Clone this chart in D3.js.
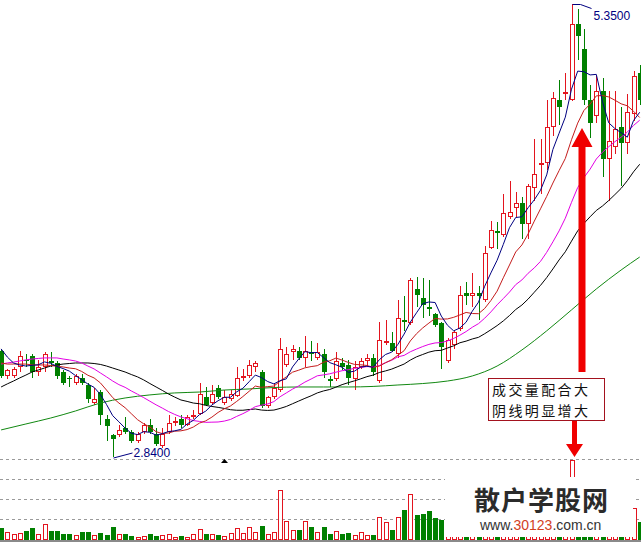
<!DOCTYPE html>
<html><head><meta charset="utf-8">
<script src="https://cdn.jsdelivr.net/npm/d3@7"></script>
<style>html,body{margin:0;padding:0;background:#fff;}svg{display:block;}</style>
</head><body>
<svg id="c" width="641" height="543"></svg>
<script>
const openP = [3.43,3.29,3.29,3.34,3.38,3.40,3.31,3.34,3.37,3.36,
3.31,3.28,3.25,3.28,3.24,3.14,3.20,3.05,2.96,2.96,
3.00,2.98,2.93,2.98,3.02,2.97,2.90,2.98,3.03,3.05,
3.02,3.06,3.08,3.17,3.14,3.22,3.14,3.16,3.18,3.28,
3.29,3.34,3.31,3.12,3.17,3.21,3.35,3.42,3.43,3.39,
3.42,3.39,3.41,3.27,3.27,3.36,3.35,3.27,3.34,3.37,
3.39,3.26,3.47,3.47,3.41,3.60,3.58,3.77,3.72,3.67,
3.63,3.58,3.37,3.46,3.55,3.75,3.73,3.75,3.71,4.00,
4.09,4.07,4.17,4.22,4.25,4.13,4.33,4.46,4.47,4.67,
4.82,4.85,4.82,5.24,5.10,4.82,4.73,4.87,4.49,4.56,
4.67,4.58,4.74,4.97];
const closeP = [3.29,3.32,3.33,3.40,3.37,3.31,3.34,3.41,3.36,3.29,
3.25,3.27,3.29,3.25,3.16,3.16,3.07,3.01,2.94,2.99,
2.98,2.93,2.97,3.02,2.98,2.91,2.97,3.03,3.04,3.02,
3.06,3.07,3.19,3.13,3.19,3.17,3.17,3.19,3.28,3.29,
3.35,3.36,3.12,3.17,3.22,3.44,3.41,3.44,3.39,3.43,
3.41,3.42,3.31,3.26,3.37,3.34,3.28,3.34,3.37,3.39,
3.31,3.49,3.48,3.43,3.61,3.59,3.82,3.74,3.68,3.66,
3.57,3.45,3.49,3.53,3.74,3.73,3.75,3.73,3.97,4.10,
4.08,4.19,4.20,4.25,4.13,4.34,4.41,4.47,4.67,4.83,
4.78,4.86,5.24,5.17,4.82,4.69,4.87,4.49,4.59,4.66,
4.58,4.75,4.95,4.82];
const highP = [3.44,3.33,3.34,3.43,3.41,3.41,3.38,3.42,3.42,3.37,
3.32,3.29,3.30,3.30,3.25,3.22,3.21,3.07,2.97,3.02,
3.06,2.99,2.98,3.03,3.05,3.00,3.00,3.07,3.06,3.07,
3.07,3.10,3.25,3.23,3.24,3.24,3.21,3.21,3.34,3.33,
3.38,3.37,3.32,3.18,3.25,3.50,3.45,3.46,3.45,3.51,
3.48,3.47,3.44,3.29,3.42,3.39,3.38,3.37,3.39,3.41,
3.41,3.59,3.60,3.53,3.71,3.73,3.83,3.84,3.83,3.82,
3.64,3.59,3.50,3.54,3.79,3.81,3.86,3.79,4.01,4.15,
4.14,4.30,4.37,4.31,4.28,4.35,4.60,4.60,4.82,4.86,
4.93,4.97,5.35,5.32,5.21,4.90,4.95,4.94,4.87,4.87,
4.78,4.85,4.98,5.01];
const lowP = [3.28,3.27,3.28,3.31,3.34,3.28,3.29,3.31,3.34,3.27,
3.24,3.23,3.24,3.24,3.14,3.13,3.02,2.93,2.84,2.95,
2.97,2.92,2.92,2.97,2.97,2.90,2.89,2.97,3.01,3.00,
3.01,3.05,3.07,3.12,3.13,3.16,3.13,3.15,3.17,3.26,
3.28,3.31,3.11,3.11,3.16,3.20,3.34,3.38,3.38,3.34,
3.37,3.38,3.28,3.23,3.26,3.32,3.24,3.21,3.33,3.34,
3.29,3.25,3.46,3.42,3.39,3.54,3.57,3.67,3.61,3.62,
3.56,3.33,3.36,3.44,3.54,3.68,3.67,3.60,3.70,3.99,
3.99,4.06,4.16,4.17,4.05,4.05,4.26,4.30,4.43,4.62,
4.68,4.82,4.81,5.04,4.79,4.61,4.69,4.39,4.26,4.52,
4.34,4.52,4.70,4.79];
const volume = [12.3,7.7,6,6.7,9,12.3,6,16,9,9,
6,6,5,7.7,8.3,5,6.7,5,13,6,
6,4,3,4,6,4,5,6,3,4,
3,5.7,10.7,6,6,5,4,6.7,11.7,6.7,
12.7,7.7,14,6,7.7,50,19,9.7,9.7,19,
13,7.7,13.3,6,9,6.3,7,5,7.7,5,
5,22.7,17.7,10,22.7,30,45.7,25,26,29,
22.3,20,28,22,35,24,26,20,42,38,
30,40,35,28,33,40,44,36,48,52,
45,40,80,62,58,45,40,50,44,36,
38,34,32,18];
const ma5 = [3.439,3.394,3.361,3.350,3.344,3.348,3.351,3.367,3.359,3.342,
3.330,3.316,3.291,3.269,3.244,3.226,3.187,3.131,3.069,3.035,
3.000,2.972,2.964,2.980,2.977,2.961,2.969,2.981,2.985,2.993,
3.023,3.043,3.075,3.094,3.128,3.152,3.171,3.171,3.201,3.221,
3.257,3.294,3.280,3.258,3.245,3.263,3.273,3.339,3.383,3.424,
3.418,3.419,3.391,3.363,3.351,3.337,3.309,3.316,3.338,3.343,
3.337,3.379,3.408,3.421,3.464,3.521,3.587,3.639,3.689,3.699,
3.696,3.621,3.570,3.539,3.555,3.587,3.648,3.698,3.786,3.860,
3.930,4.018,4.111,4.167,4.171,4.221,4.265,4.318,4.403,4.544,
4.634,4.723,4.878,4.978,4.975,4.957,4.960,4.808,4.692,4.660,
4.637,4.612,4.704,4.750];
const ma10 = [3.361,3.355,3.355,3.355,3.355,3.350,3.350,3.350,3.347,3.343,
3.339,3.333,3.329,3.314,3.293,3.278,3.251,3.211,3.169,3.139,
3.113,3.080,3.047,3.024,3.006,2.980,2.970,2.973,2.983,2.985,
2.992,3.006,3.028,3.040,3.061,3.087,3.107,3.123,3.148,3.175,
3.204,3.233,3.226,3.230,3.233,3.260,3.284,3.310,3.321,3.334,
3.341,3.346,3.365,3.373,3.388,3.377,3.364,3.353,3.351,3.347,
3.337,3.344,3.362,3.379,3.404,3.429,3.483,3.523,3.555,3.582,
3.608,3.604,3.605,3.614,3.627,3.641,3.635,3.634,3.663,3.707,
3.759,3.833,3.904,3.976,4.015,4.076,4.147,4.215,4.284,4.358,
4.427,4.494,4.598,4.690,4.760,4.795,4.841,4.843,4.835,4.817,
4.797,4.786,4.756,4.721];
const ma20 = [3.355,3.361,3.366,3.372,3.378,3.383,3.386,3.389,3.389,3.389,
3.383,3.378,3.372,3.361,3.344,3.328,3.306,3.284,3.261,3.241,
3.226,3.206,3.188,3.169,3.149,3.129,3.111,3.092,3.076,3.062,
3.052,3.042,3.037,3.032,3.033,3.034,3.039,3.048,3.065,3.080,
3.098,3.119,3.127,3.134,3.147,3.174,3.195,3.216,3.234,3.255,
3.272,3.290,3.295,3.301,3.310,3.318,3.324,3.331,3.336,3.341,
3.339,3.346,3.363,3.376,3.395,3.403,3.423,3.438,3.452,3.464,
3.472,3.474,3.483,3.497,3.515,3.535,3.559,3.579,3.609,3.644,
3.683,3.718,3.754,3.795,3.821,3.858,3.888,3.924,3.974,4.032,
4.093,4.163,4.251,4.333,4.388,4.435,4.491,4.529,4.559,4.587,
4.612,4.640,4.677,4.706];
const ma30 = [3.228,3.245,3.261,3.278,3.294,3.311,3.322,3.333,3.344,3.350,
3.355,3.358,3.361,3.361,3.361,3.358,3.353,3.344,3.333,3.322,
3.311,3.297,3.284,3.267,3.247,3.228,3.209,3.189,3.172,3.156,
3.148,3.139,3.135,3.126,3.120,3.115,3.109,3.102,3.099,3.099,
3.103,3.106,3.100,3.098,3.100,3.109,3.120,3.135,3.150,3.165,
3.179,3.195,3.206,3.214,3.227,3.241,3.252,3.262,3.273,3.285,
3.294,3.308,3.317,3.327,3.341,3.355,3.377,3.395,3.408,3.421,
3.429,3.431,3.444,3.456,3.473,3.482,3.494,3.503,3.523,3.545,
3.568,3.594,3.624,3.657,3.682,3.715,3.753,3.791,3.834,3.882,
3.932,3.977,4.036,4.093,4.134,4.171,4.206,4.231,4.261,4.294,
4.328,4.371,4.420,4.462];
const ma60Idx = [0,4,8,12,16,20,24,28,32,36,40,44,48,52,56,60,64,68,72,76,80,84,88,92,96,100,103];
const ma60 = [2.990,3.023,3.056,3.095,3.139,3.167,3.184,3.195,3.200,3.211,3.217,3.225,3.228,3.228,3.228,3.231,3.239,3.247,3.261,3.289,3.344,3.433,3.539,3.655,3.771,3.876,3.948];
const volGridTicks = [20,40,60,80];
const lowLabel = "2.8400";
const highLabel = "5.3500";
const markerIdx = [36];
const noteLines = ["成交量配合大","阴线明显增大"];
const brandName = "散户学股网";
const brandUrl = [["www.","#333"],["30123","#D2401E"],[".com.cn","#333"]];

const W = 641, H = 543;
const svg = d3.select('#c');
const n = closeP.length;
const idx = d3.range(n);
const x = d3.scaleLinear().domain([0, n - 1]).range([1.1, 639.7]);
const y = d3.scaleLinear().domain([2.84, 5.35]).range([457, 4]);
const yv = d3.scaleLinear().domain([0, 80]).range([540, 460]);
const RED = '#E3141E', GREEN = '#008000';
const up = i => closeP[i] >= openP[i];
const col = i => Math.round(x(i));

// grid lines of volume pane
svg.append('g').selectAll('line').data(volGridTicks).join('line')
  .attr('x1', 0).attr('x2', W)
  .attr('y1', d => Math.round(yv(d)) - 0.5).attr('y2', d => Math.round(yv(d)) - 0.5)
  .attr('stroke', '#9a9a9a').attr('stroke-dasharray', '3,3');
svg.append('rect').attr('x', 0).attr('y', 540).attr('width', W).attr('height', 2).attr('fill', '#8a8a8a');

// volume bars
const gv = svg.append('g').attr('shape-rendering', 'crispEdges');
gv.selectAll('rect.vu').data(idx.filter(up)).join('rect').attr('class', 'vu')
  .attr('x', i => col(i) - 1.5).attr('y', i => Math.round(yv(volume[i])) + 0.5)
  .attr('width', 4).attr('height', i => Math.max(0, 540 - Math.round(yv(volume[i])) - 1))
  .attr('fill', '#fff').attr('stroke', RED);
gv.selectAll('rect.vd').data(idx.filter(i => !up(i))).join('rect').attr('class', 'vd')
  .attr('x', i => col(i) - 2).attr('y', i => Math.round(yv(volume[i])))
  .attr('width', 5).attr('height', i => 540 - Math.round(yv(volume[i])))
  .attr('fill', GREEN);

// candles
const gc = svg.append('g').attr('shape-rendering', 'crispEdges');
idx.forEach(i => {
  const c = col(i) + 0.5;
  const t = Math.round(y(Math.max(openP[i], closeP[i])));
  const b = Math.round(y(Math.min(openP[i], closeP[i])));
  const yh = Math.round(y(highP[i])), yl = Math.round(y(lowP[i]));
  const color = up(i) ? RED : GREEN;
  const g = gc.append('g');
  if (b - t < 2) {
    g.append('line').attr('x1', c).attr('x2', c).attr('y1', yh).attr('y2', yl).attr('stroke', color);
    g.append('line').attr('x1', c - 2.5).attr('x2', c + 2.5).attr('y1', t + 0.5).attr('y2', t + 0.5).attr('stroke', color);
  } else if (up(i)) {
    g.append('line').attr('x1', c).attr('x2', c).attr('y1', yh).attr('y2', t).attr('stroke', color);
    g.append('line').attr('x1', c).attr('x2', c).attr('y1', b).attr('y2', yl).attr('stroke', color);
    g.append('rect').attr('x', c - 2).attr('y', t + 0.5).attr('width', 4).attr('height', b - t - 1)
      .attr('fill', '#fff').attr('stroke', color);
  } else {
    g.append('line').attr('x1', c).attr('x2', c).attr('y1', yh).attr('y2', yl).attr('stroke', color);
    g.append('rect').attr('x', c - 2.5).attr('y', t).attr('width', 5).attr('height', b - t).attr('fill', color);
  }
});

// moving averages
const lineGen = d3.line().x((d, i) => x(i)).y(d => y(d));
svg.append('path').datum(ma60)
  .attr('d', d3.line().x((d, k) => x(ma60Idx[k])).y(d => y(d)).curve(d3.curveMonotoneX))
  .attr('fill', 'none').attr('stroke', '#118811').attr('stroke-width', 1);
[[ma30, '#000000'], [ma20, '#E400E4'], [ma10, '#C41C1C'], [ma5, '#000080']].forEach(([arr, c]) => {
  svg.append('path').datum(arr).attr('d', lineGen).attr('fill', 'none').attr('stroke', c).attr('stroke-width', 1);
});

// low / high labels
const iLow = d3.minIndex(lowP), iHigh = d3.maxIndex(highP);
const lx = col(iLow) + 0.5, ly = y(lowP[iLow]) + 1;
svg.append('path').attr('d', `M${lx},${ly}L${lx + 19},${ly - 5}`).attr('stroke', '#000080').attr('fill', 'none');
svg.append('text').attr('x', lx + 20).attr('y', 457).text(lowLabel)
  .attr('font-family', 'Liberation Sans, Arial, sans-serif').attr('font-size', 12).attr('fill', '#000080');
const hx = col(iHigh) + 0.5, hy = y(highP[iHigh]) + 0.5;
svg.append('path').attr('d', `M${hx},${hy}L${hx + 8},${hy}L${hx + 19},${hy + 4}`).attr('stroke', '#000080').attr('fill', 'none');
svg.append('text').attr('x', hx + 21).attr('y', 20).text(highLabel)
  .attr('font-family', 'Liberation Sans, Arial, sans-serif').attr('font-size', 12).attr('fill', '#000080');

// small marker
svg.selectAll('path.mk').data(markerIdx).join('path').attr('class', 'mk')
  .attr('d', i => { const c = col(i) + 0.5; return `M${c},459L${c - 3.5},463L${c + 3.5},463Z`; })
  .attr('fill', '#000');

// big red up arrow
const ax = col(iHigh) + 10;
svg.append('path')
  .attr('d', `M${ax},128L${ax + 10.5},147L${ax + 3.5},147L${ax + 3.5},372L${ax - 3.5},372L${ax - 3.5},147L${ax - 10.5},147Z`)
  .attr('fill', '#F00000');

// annotation box
svg.append('rect').attr('x', 488.5).attr('y', 378.5).attr('width', 116).attr('height', 42)
  .attr('fill', '#fff').attr('stroke', '#A3121E');
svg.selectAll('text.note').data(noteLines).join('text').attr('class', 'note')
  .attr('x', 492).attr('y', (d, k) => 395 + k * 20.8).text(d => d)
  .attr('font-family', 'Noto Sans CJK SC, sans-serif').attr('font-size', 14)
  .attr('letter-spacing', 2.4).attr('fill', '#111');

// down arrow to volume
const dx = col(iHigh) + 2.5;
svg.append('path')
  .attr('d', `M${dx - 2.5},421L${dx + 2.5},421L${dx + 2.5},444L${dx + 8.5},444L${dx},457L${dx - 8.5},444L${dx - 2.5},444Z`)
  .attr('fill', '#F00000');

// watermark
svg.append('rect').attr('x', 445).attr('y', 477).attr('width', 188).attr('height', 60).attr('fill', '#fff');
svg.append('text').attr('x', 474).attr('y', 510).text(brandName)
  .attr('font-family', 'Noto Sans CJK SC, sans-serif').attr('font-weight', 'bold').attr('font-size', 26)
  .attr('fill', '#2b2b2b').attr('textLength', 134);
const tu = svg.append('text').attr('x', 480).attr('y', 530)
  .attr('font-family', 'Liberation Sans, Arial, sans-serif').attr('font-size', 14);
brandUrl.forEach(([s, c]) => tu.append('tspan').text(s).attr('fill', c));
</script>
</body></html>
